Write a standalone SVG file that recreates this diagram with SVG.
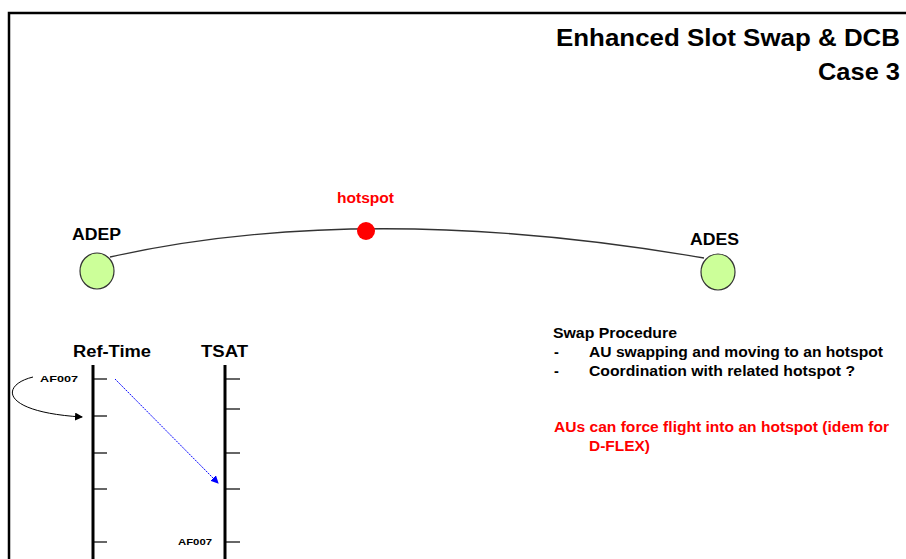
<svg xmlns="http://www.w3.org/2000/svg" width="906" height="559" viewBox="0 0 906 559">
<defs>
<style>
text{font-family:"Liberation Sans",Arial,sans-serif;font-weight:bold;fill:#000}
.red{fill:#ff0000}
.axis{stroke:#000;stroke-width:3;fill:none}
.tick{stroke:#000;stroke-width:1.2;fill:none}
.site{fill:#ccff99;stroke:#333;stroke-width:1.2}
.small{font-size:9.5px}
.body{font-size:14.5px}
.label{font-size:16px}
</style>
<marker id="ab" markerWidth="8" markerHeight="8" refX="7" refY="4" orient="auto" markerUnits="userSpaceOnUse"><path d="M0,0 L8,4 L0,8 z" fill="#0000ff"/></marker>
<marker id="ak" markerWidth="8" markerHeight="8" refX="7" refY="4" orient="auto" markerUnits="userSpaceOnUse"><path d="M0,0 L8,4 L0,8 z" fill="#000"/></marker>
</defs>
<rect width="906" height="559" fill="#fff"/>
<path d="M9,559 V13 H906" fill="none" stroke="#000" stroke-width="2.5"/>
<g id="title">
<text x="900" y="46" font-size="24" text-anchor="end" textLength="344" lengthAdjust="spacingAndGlyphs">Enhanced Slot Swap &amp; DCB</text>
<text x="900" y="80" font-size="24" text-anchor="end" textLength="82" lengthAdjust="spacingAndGlyphs">Case 3</text>
</g>
<g id="connectors">
<path d="M110,257 Q366,200 704,258" fill="none" stroke="#333" stroke-width="1.3"/>
<line x1="115" y1="379" x2="218" y2="483" stroke="#0000ff" stroke-width="1" stroke-dasharray="2,1" marker-end="url(#ab)"/>
<path d="M33,377 C0,385 0,412 82,417" fill="none" stroke="#000" stroke-width="1" marker-end="url(#ak)"/>
</g>
<g id="adep">
<ellipse class="site" cx="97" cy="271" rx="17" ry="18"/>
<text class="label" x="72" y="240" textLength="49" lengthAdjust="spacingAndGlyphs">ADEP</text>
</g>
<g id="ades">
<ellipse class="site" cx="718" cy="272" rx="17" ry="18"/>
<text class="label" x="690" y="245" textLength="49" lengthAdjust="spacingAndGlyphs">ADES</text>
</g>
<g id="hotspot">
<circle cx="366" cy="231" r="9" fill="#ff0000"/>
<text class="red" x="337" y="203" font-size="14" textLength="57" lengthAdjust="spacingAndGlyphs">hotspot</text>
</g>
<g id="ref-time">
<text class="label" x="73" y="357" textLength="78" lengthAdjust="spacingAndGlyphs">Ref-Time</text>
<line class="axis" x1="93" y1="365" x2="93" y2="559"/>
<line class="tick" x1="93" y1="379" x2="107" y2="379"/>
<line class="tick" x1="93" y1="416" x2="107" y2="416"/>
<line class="tick" x1="93" y1="453" x2="107" y2="453"/>
<line class="tick" x1="93" y1="489" x2="107" y2="489"/>
<line class="tick" x1="93" y1="542" x2="107" y2="542"/>
<text class="small" x="40" y="382" textLength="38" lengthAdjust="spacingAndGlyphs">AF007</text>
</g>
<g id="tsat">
<text class="label" x="201" y="357" textLength="47" lengthAdjust="spacingAndGlyphs">TSAT</text>
<line class="axis" x1="225" y1="365" x2="225" y2="559"/>
<line class="tick" x1="225" y1="379" x2="240" y2="379"/>
<line class="tick" x1="225" y1="409" x2="240" y2="409"/>
<line class="tick" x1="225" y1="453" x2="240" y2="453"/>
<line class="tick" x1="225" y1="489" x2="240" y2="489"/>
<line class="tick" x1="225" y1="542" x2="240" y2="542"/>
<text class="small" x="178" y="545" textLength="34" lengthAdjust="spacingAndGlyphs">AF007</text>
</g>
<g id="notes">
<text class="body" x="553" y="338" textLength="124" lengthAdjust="spacingAndGlyphs">Swap Procedure</text>
<text class="body" x="554" y="357">-</text>
<text class="body" x="589" y="357" textLength="294" lengthAdjust="spacingAndGlyphs">AU swapping and moving to an hotspot</text>
<text class="body" x="554" y="376">-</text>
<text class="body" x="589" y="376" textLength="266" lengthAdjust="spacingAndGlyphs">Coordination with related hotspot ?</text>
<text class="body red" x="554" y="432" textLength="335" lengthAdjust="spacingAndGlyphs">AUs can force flight into an hotspot (idem for</text>
<text class="body red" x="589" y="451" textLength="61" lengthAdjust="spacingAndGlyphs">D-FLEX)</text>
</g>
</svg>
